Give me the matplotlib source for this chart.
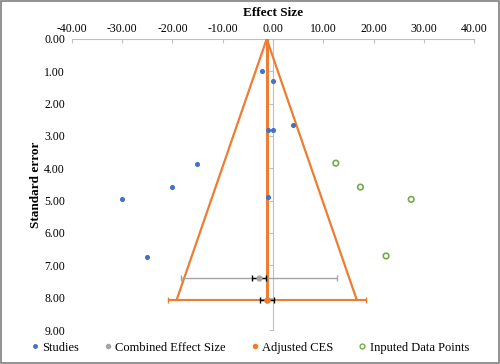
import matplotlib
matplotlib.use("Agg")
import matplotlib.pyplot as plt
from matplotlib.patches import Rectangle
from matplotlib.lines import Line2D

# ---- data ----
study_es = [-2.1, -0.07, -1.06, -0.07, 4.05, -15.1, -20.0, -30.0, -1.06, -25.0]
study_se = [0.98, 1.29, 2.81, 2.81, 2.67, 3.86, 4.59, 4.95, 4.88, 6.73]
imputed_es = [12.5, 17.4, 27.5, 22.5]
imputed_se = [3.84, 4.58, 4.96, 6.71]
combined_es = -2.8
combined_se = 7.40
combined_ci_wide = 15.5
combined_ci_narrow = 1.4
adjusted_es = -1.25
adjusted_se = 8.06
adjusted_ci_wide = 19.7
adjusted_ci_narrow = 1.35
funnel_half_width = 17.9
x_ticks = [-40, -30, -20, -10, 0, 10, 20, 30, 40]
y_ticks = [0, 1, 2, 3, 4, 5, 6, 7, 8, 9]
legend_labels = ["Studies", "Combined Effect Size", "Adjusted CES", "Inputed Data Points"]

BLUE = "#4472C4"
GRAY = "#A5A5A5"
ORANGE = "#ED7D31"
GREEN = "#70AD47"
AXIS = "#BFBFBF"

plt.rcParams['font.family'] = ['Liberation Serif', 'DejaVu Serif']

fig = plt.figure(figsize=(5.0, 3.64), dpi=100)
ax = fig.add_axes([0.144, 0.0934, 0.804, 0.7995])
ax.set_xlim(-40, 40)
ax.set_ylim(9, 0)

# funnel
ax.plot([adjusted_es - funnel_half_width, adjusted_es, adjusted_es + funnel_half_width],
        [adjusted_se, 0, adjusted_se], color=ORANGE, lw=1.6, zorder=3)
ax.plot([adjusted_es, adjusted_es], [0, adjusted_se], color=ORANGE, lw=2.2, zorder=3)

# studies
ax.scatter(study_es, study_se, s=7, color=BLUE, zorder=4)
# imputed
ax.scatter(imputed_es, imputed_se, s=16, facecolors='none', edgecolors=GREEN, linewidths=1.2, zorder=4)

# combined effect size
ax.errorbar([combined_es], [combined_se], xerr=[combined_ci_wide], fmt='none',
            ecolor=GRAY, elinewidth=1.0, capsize=2, capthick=1.0, zorder=4)
ax.errorbar([combined_es], [combined_se], xerr=[combined_ci_narrow], fmt='none',
            ecolor='black', elinewidth=1.0, capsize=2, capthick=1.0, zorder=5)
ax.scatter([combined_es], [combined_se], s=12, color=GRAY, zorder=6)

# adjusted CES
ax.errorbar([adjusted_es], [adjusted_se], xerr=[adjusted_ci_wide], fmt='none',
            ecolor=ORANGE, elinewidth=1.5, capsize=2, capthick=1.0, zorder=4)
ax.errorbar([adjusted_es], [adjusted_se], xerr=[adjusted_ci_narrow], fmt='none',
            ecolor='black', elinewidth=1.0, capsize=2, capthick=1.0, zorder=5)
ax.scatter([adjusted_es], [adjusted_se], s=14, color=ORANGE, zorder=6)

# axes styling
for s in ['left', 'right', 'bottom']:
    ax.spines[s].set_visible(False)
ax.spines['top'].set_color(AXIS)
ax.spines['top'].set_linewidth(0.8)
ax.xaxis.set_ticks_position('top')
ax.xaxis.set_label_position('top')
ax.set_xticks(x_ticks)
ax.set_xticklabels([f"{v:.2f}" for v in x_ticks])
ax.tick_params(axis='x', direction='in', length=3, color=AXIS, labelsize=8.5, pad=3)
ax.set_xlabel("Effect Size", fontweight='bold', fontsize=9.5, labelpad=5)

ax.set_yticks(y_ticks)
ax.set_yticklabels([f"{v:.2f}" for v in y_ticks])
ax.tick_params(axis='y', length=0, labelsize=8.5, pad=5)
ax.set_ylabel("Standard error", fontweight='bold', fontsize=9.5)
ax.yaxis.set_label_coords(-0.074, 0.5)

sec = ax.secondary_yaxis(0.5)
sec.set_yticks(y_ticks)
sec.set_yticklabels([])
sec.tick_params(axis='y', which='both', direction='in', length=3, color=AXIS,
                labelleft=False, labelright=False)
for sp in sec.spines.values():
    sp.set_color(AXIS)
    sp.set_linewidth(0.8)

# legend
handles = [
    Line2D([], [], ls='none', marker='o', ms=2.5, color=BLUE),
    Line2D([], [], ls='none', marker='o', ms=3, color=GRAY),
    Line2D([], [], ls='none', marker='o', ms=3, color=ORANGE),
    Line2D([], [], ls='none', marker='o', ms=3.5, mfc='none', mec=GREEN, mew=1),
]
fig.legend(handles, legend_labels, loc='center', bbox_to_anchor=(0.5, 0.045), ncol=4,
           frameon=False, fontsize=9, handlelength=0.6, handletextpad=0.3, columnspacing=2.0)

fig.patches.append(Rectangle((0.002, 0.003), 0.996, 0.994, transform=fig.transFigure,
                             fill=False, edgecolor='#7F7F7F', lw=1.2))

fig.savefig("out.png", dpi=100)
